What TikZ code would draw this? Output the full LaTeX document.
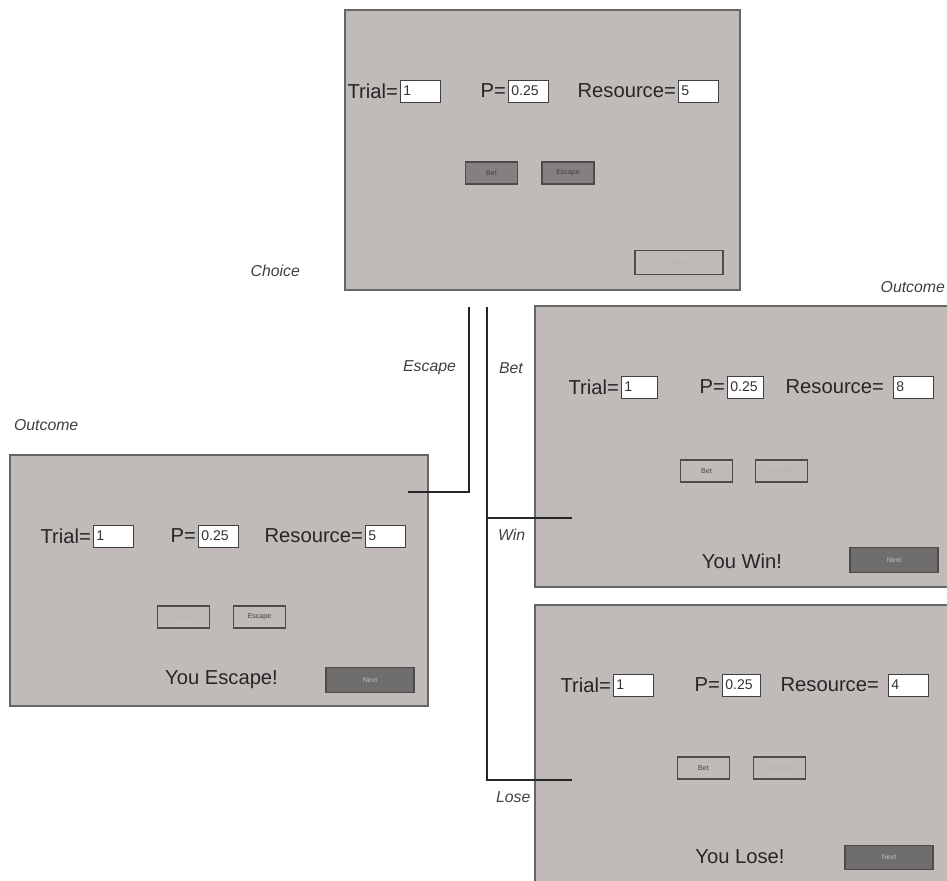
\documentclass[tikz,border=0pt]{standalone}
\usepackage{fontspec}
\setmainfont{Liberation Sans}
\usetikzlibrary{positioning}
\definecolor{panelgray}{RGB}{192,187,185}
\definecolor{btngray}{RGB}{132,128,127}
\definecolor{nextgray}{RGB}{112,109,109}

\begin{document}
\begin{tikzpicture}[x=0.02cm, y=-0.02cm,
        panel/.style={rectangle, draw=black!60, fill=panelgray, line width=0.8pt, inner sep=0pt},
        field/.style={rectangle, draw=black!75, fill=white, anchor=west, minimum height=0.44cm, text width=0.68cm, inner xsep=0.06cm, inner ysep=0pt, align=left, font=\fontsize{8}{9}\selectfont, text=black!80},
        caption/.style={inner sep=1pt, text=black!85, font=\fontsize{11.5}{13}\selectfont},
        button/.style={rectangle, draw=black!70, line width=0.7pt, minimum width=1.04cm, minimum height=0.44cm, inner sep=0pt, font=\fontsize{4}{5}\selectfont, text=black!75},
        pressed/.style={button, fill=btngray},
        idle/.style={button, text=black!30},
        nextbtn/.style={button, minimum width=1.76cm, minimum height=0.49cm, fill=nextgray, text=black!25},
        note/.style={inner sep=1pt, text=black!75, font=\itshape\fontsize{9}{11}\selectfont},
        link/.style={line width=1.1pt, black!85}
    ]
        \useasboundingbox (0,0) rectangle (947,880);

        % Pantallas
        \node[panel, minimum width=7.9cm, minimum height=5.6cm] (choice) at (542.5,150) {};
        \node[panel, minimum width=8.36cm, minimum height=5.02cm] (escout) at (219,580.5) {};
        \node[panel, minimum width=8.5cm, minimum height=5.62cm] (winout) at (747.5,446.5) {};
        \node[panel, minimum width=8.5cm, minimum height=5.8cm] (loseout) at (747.5,750) {};

        % Choice
        \node[field] (ctrial) at (400,91) {1};
        \node[caption, left=0pt of ctrial] {Trial=};
        \node[field] (cp) at (508,91) {0.25};
        \node[caption, left=0pt of cp] {P=};
        \node[field] (cres) at (678,91) {5};
        \node[caption, left=0pt of cres] {Resource=};
        \node[pressed] (cbet) at (491.5,173) {Bet};
        \node[pressed] (cesc) at (568,173) {Escape};
        \node[nextbtn, fill=none, text=black!30] (cnext) at (679,262.5) {Next};

        % Outcome: escape
        \node[field] (etrial) at (93,536) {1};
        \node[caption, left=0pt of etrial] {Trial=};
        \node[field] (ep) at (198,536) {0.25};
        \node[caption, left=0pt of ep] {P=};
        \node[field] (eres) at (365,536) {5};
        \node[caption, left=0pt of eres] {Resource=};
        \node[idle] (ebet) at (183.5,617) {Bet};
        \node[button] (eesc) at (259.5,617) {Escape};
        \node[caption] (emsg) at (221.5,680) {You Escape!};
        \node[nextbtn] (enext) at (370,680) {Next};

        % Outcome: win
        \node[field, text width=0.6cm] (wtrial) at (621,387) {1};
        \node[caption, left=0pt of wtrial] {Trial=};
        \node[field, text width=0.6cm] (wp) at (727,387) {0.25};
        \node[caption, left=0pt of wp] {P=};
        \node[field] (wres) at (893,387) {8};
        \node[caption, left=0.14cm of wres] {Resource=};
        \node[button] (wbet) at (706.5,471) {Bet};
        \node[idle] (wesc) at (781.5,471) {Escape};
        \node[caption] (wmsg) at (742,561) {You Win!};
        \node[nextbtn] (wnext) at (894,560) {Next};

        % Outcome: lose
        \node[field] (ltrial) at (613,685) {1};
        \node[caption, left=0pt of ltrial] {Trial=};
        \node[field, text width=0.64cm] (lp) at (722,685) {0.25};
        \node[caption, left=0pt of lp] {P=};
        \node[field] (lres) at (888,685) {4};
        \node[caption, left=0.14cm of lres] {Resource=};
        \node[button] (lbet) at (703.5,768) {Bet};
        \node[idle] (lesc) at (779.5,768) {Escape};
        \node[caption] (lmsg) at (740,857) {You Lose!};
        \node[nextbtn] (lnext) at (889,857.5) {Next};

        % Ramas
        \coordinate (esctop) at (469,307);
        \coordinate (escend) at (408,492);
        \coordinate (bettop) at (487,307);
        \coordinate (winend) at (572,518);
        \coordinate (loseend) at (572,780);
        \draw[link] (esctop) |- (escend);
        \draw[link] (bettop) |- (loseend);
        \draw[link] (bettop |- winend) -- (winend);

        % Etiquetas
        \node[note, anchor=east] (lchoice) at (302,271) {Choice};
        \node[note, anchor=east] (lescape) at (458,368) {Escape};
        \node[note, anchor=west] (lbetc) at (497,368) {Bet};
        \node[note, anchor=west] (lwin) at (496,535) {Win};
        \node[note, anchor=west] (llose) at (494,797) {Lose};
        \node[note, anchor=west] (lout1) at (12,425) {Outcome};
        \node[note, anchor=east] (lout2) at (947,287) {Outcome};
    \end{tikzpicture}
\end{document}
